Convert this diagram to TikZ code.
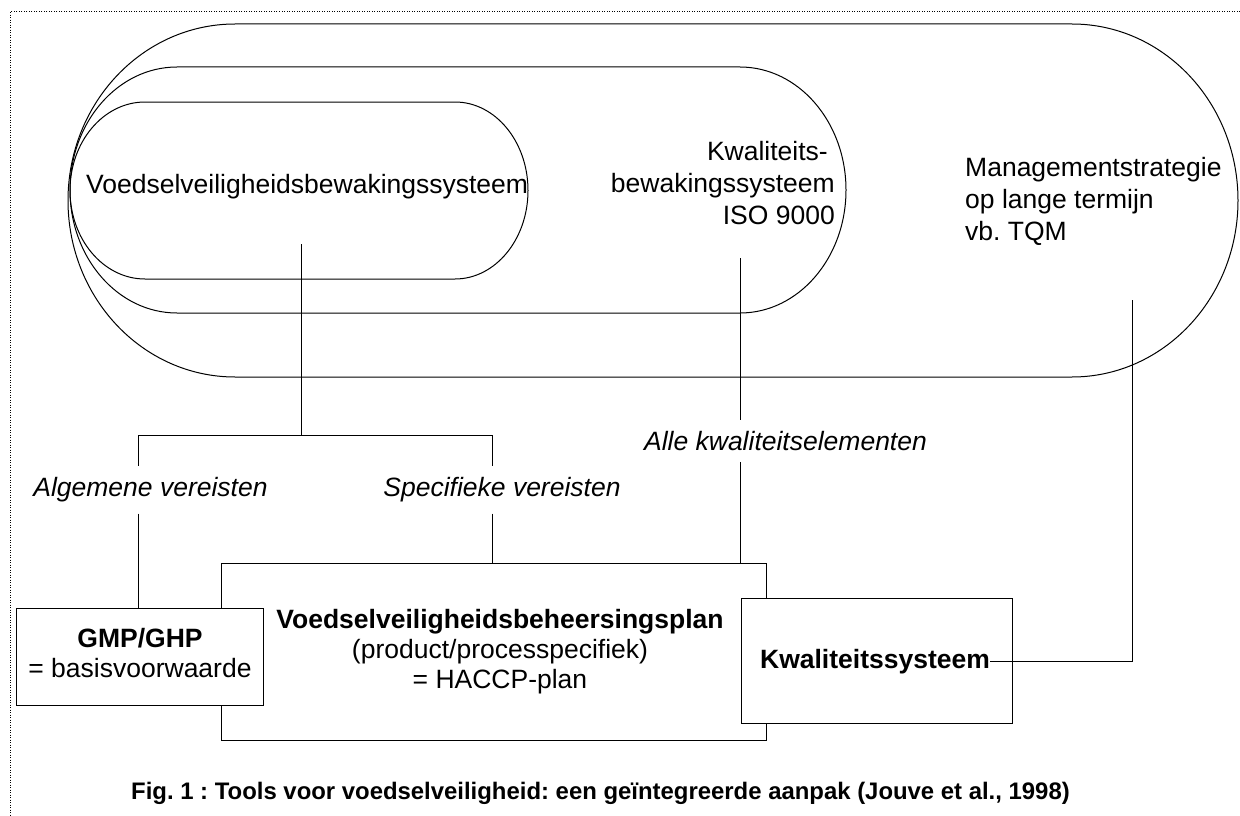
\documentclass[tikz,border=0pt]{standalone}
\usepackage{fontspec}
\setmainfont{Liberation Sans}
\frenchspacing
\begin{document}
\begin{tikzpicture}[x=1pt,y=-1pt,
  ln/.style={line width=1pt},
  body/.style={font=\fontsize{26.5}{32}\selectfont, inner sep=0pt},
  lbl/.style={font=\fontsize{26.5}{32}\selectfont\itshape, inner xsep=0pt, inner ysep=11pt},
  box/.style={draw, line width=1pt, fill=white, inner sep=0pt},
  btext/.style={font=\fontsize{26.5}{30}\selectfont, align=center, inner sep=0pt}]
\useasboundingbox (0,0) rectangle (1240,816);
\draw[line width=1pt, dash pattern=on 1pt off 1.5pt] (1240,12) -- (10,12) -- (10,816);
% nested systems
\draw[ln] (235,24) -- (1072,24) arc[start angle=-90,end angle=90,x radius=166,y radius=176.5] -- (235,377) arc[start angle=90,end angle=270,x radius=167,y radius=176.5] -- cycle;
\draw[ln] (177,67) -- (740,67) arc[start angle=-90,end angle=90,x radius=106,y radius=123] -- (177,313) arc[start angle=90,end angle=270,x radius=107,y radius=123] -- cycle;
\draw[ln] (145,102) -- (455,102) arc[start angle=-90,end angle=90,x radius=73,y radius=88.5] -- (145,279) arc[start angle=90,end angle=270,x radius=75,y radius=88.5] -- cycle;
% boxes
\node[box, minimum width=545pt, minimum height=177pt] (haccp) at (493.5,651.5) {};
\node[box, minimum width=247pt, minimum height=97pt] (gmp) at (139.5,656.5) {};
\node[box, minimum width=271pt, minimum height=125pt] (kwal) at (876.5,660.5) {};
% texts
\node[body, anchor=base west] (tvoed) at (86,193) {Voedselveiligheidsbewakingssysteem};
\node[body, align=right, anchor=north east] (tiso) at (835,141) {Kwaliteits-\hspace*{7pt}\\bewakingssysteem\\ISO 9000};
\node[body, align=left, anchor=north west] (ttqm) at (965,157) {Managementstrategie\\op lange termijn\\vb. TQM};
\node[btext, anchor=north] (tgmp) at (140,628) {\textbf{GMP/GHP}\\= basisvoorwaarde};
\node[btext, anchor=north] (thaccp) at (500,609) {\textbf{Voedselveiligheidsbeheersingsplan}\\(product/processpecifiek)\\= HACCP-plan};
\node[btext, anchor=base, font=\fontsize{26.5}{30}\selectfont\bfseries] (tkwal) at (875,668) {Kwaliteitssysteem};
% labels
\node[lbl] (la) at (150.5,490) {Algemene vereisten};
\node[lbl] (ls) at (502,490) {Specifieke vereisten};
\node[lbl] (lk) at (785.5,441) {Alle kwaliteitselementen};
% caption
\node[font=\fontsize{23.9}{28}\selectfont\bfseries, anchor=base west, inner sep=0pt] (cap) at (131,799) {Fig. 1 : Tools voor voedselveiligheid: een geïntegreerde aanpak (Jouve et al., 1998)};
% connectors
\coordinate (v1) at (301,244);
\coordinate (j1) at (301,435);
\coordinate (hl) at (138,435);
\coordinate (hr) at (492,435);
\coordinate (iso) at (740,258);
\coordinate (tqm) at (1132,300);
\draw[ln] (v1) -- (j1);
\draw[ln] (hl) -- (hr);
\draw[ln] (hl) -- (la.north -| hl);
\draw[ln] (la.south -| hl) -- (gmp.north -| hl);
\draw[ln] (hr) -- (ls.north -| hr);
\draw[ln] (ls.south -| hr) -- (haccp.north -| hr);
\draw[ln] (iso) -- (lk.north -| iso);
\draw[ln] (lk.south -| iso) -- (haccp.north -| iso);
\draw[ln] (tqm) |- (tkwal.east);
\end{tikzpicture}
\end{document}
